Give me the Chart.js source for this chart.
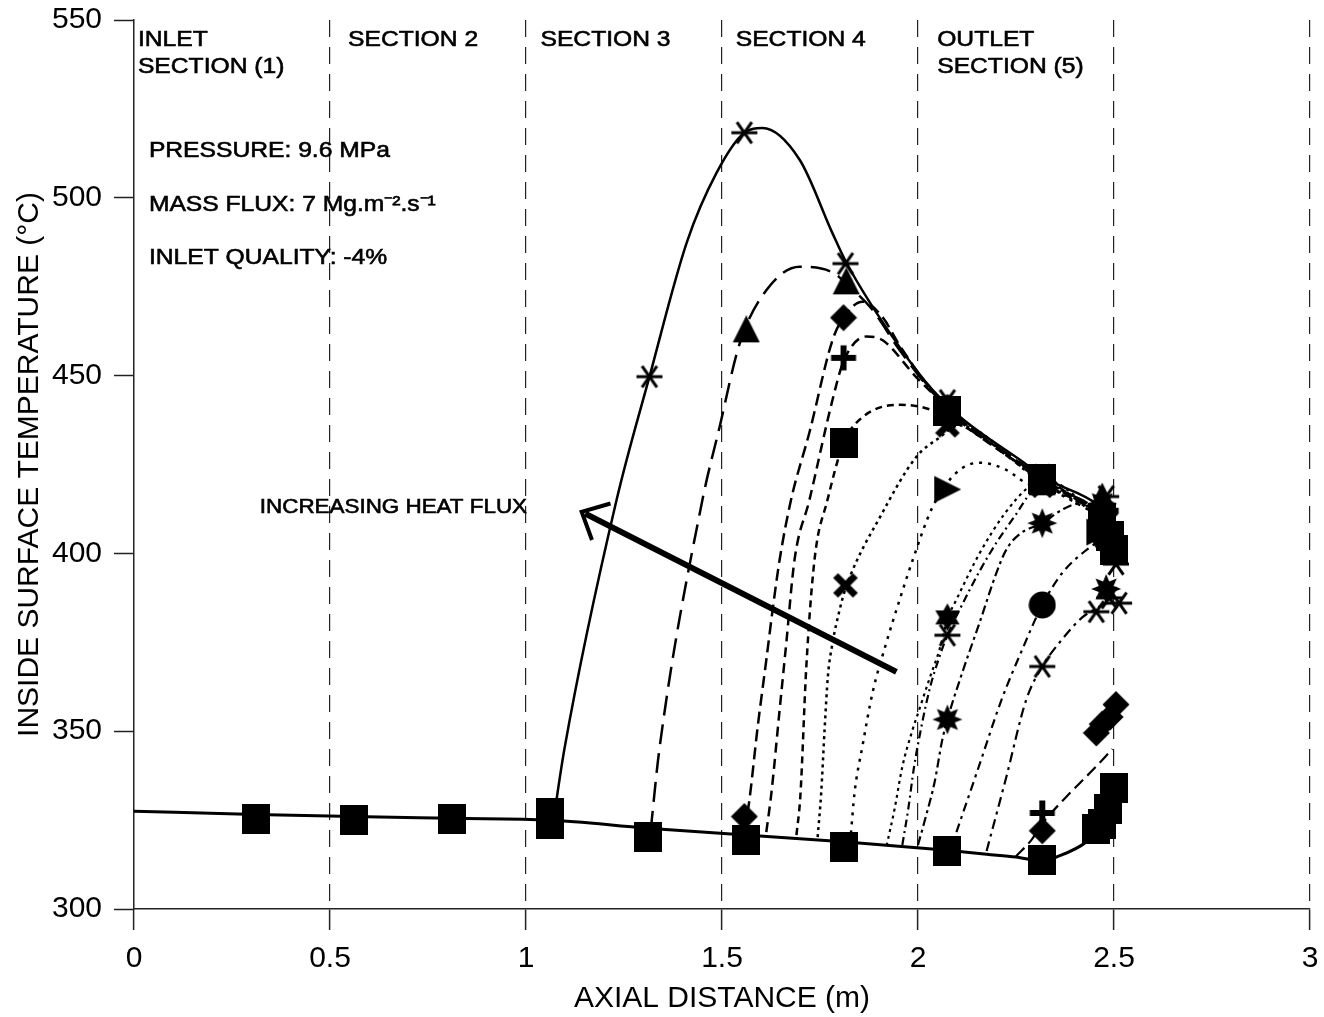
<!DOCTYPE html>
<html>
<head>
<meta charset="utf-8">
<title>Inside surface temperature vs axial distance</title>
<script src="https://cdn.jsdelivr.net/npm/chart.js@4.4.1/dist/chart.umd.min.js"></script>
<style>
  html, body { margin: 0; padding: 0; background: #fff; }
  #wrap { width: 1324px; height: 1017px; }
</style>
</head>
<body>
<div id="wrap"><canvas id="chart" width="1324" height="1017"></canvas></div>
<script>
// Axis ticks
const xTicks = [0, 0.5, 1, 1.5, 2, 2.5, 3];
const yTicks = [300, 350, 400, 450, 500, 550];

// Unheated-wall baseline (axial distance m, temperature °C)
const baseX = [0, 0.31, 0.56, 0.81, 1.06, 1.31, 1.56, 1.81, 2.075, 2.175, 2.25, 2.317, 2.353, 2.43, 2.46, 2.5];
const baseY = [327.5, 326.6, 326, 325.5, 325, 322.7, 320.8, 318.9, 316.5, 315.4, 314.6, 313.5, 314.6, 318.9, 322.5, 333];

// Fitted curves, highest heat flux first
const c1X = [1.07, 1.098, 1.231, 1.315, 1.41, 1.486, 1.557, 1.603, 1.698, 1.782, 1.817, 1.953, 2.037, 2.106, 2.284, 2.317, 2.46, 2.5];
const c1Y = [325, 345, 415, 449.7, 487.4, 507, 518.3, 519.6, 510.7, 490, 481.8, 458, 446, 438.5, 424.4, 421.6, 413.6, 409];

const c2X = [1.318, 1.34, 1.45, 1.494, 1.545, 1.613, 1.698, 1.782, 1.83, 1.88, 1.953, 2.037, 2.106, 2.284, 2.317, 2.46];
const c2Y = [322, 344.7, 415, 435.6, 459, 474, 480.6, 479, 474.5, 469, 457.2, 445.3, 437.8, 423.7, 420.9, 412.8];

const c3X = [1.565, 1.57, 1.591, 1.613, 1.629, 1.647, 1.676, 1.723, 1.782, 1.81, 1.858, 1.909, 1.953, 2.037, 2.106, 2.284, 2.317, 2.46];
const c3Y = [327, 330.7, 351.2, 370, 384, 398.2, 415, 434, 460, 466.3, 470.8, 466.5, 458.5, 445.5, 437.8, 423.5, 420.8, 412.6];

const c4X = [1.613, 1.626, 1.647, 1.664, 1.685, 1.723, 1.782, 1.81, 1.868, 1.909, 1.996, 2.037, 2.106, 2.284, 2.317, 2.46];
const c4Y = [321.6, 332.6, 356, 374.8, 398.2, 415, 443.2, 454, 461, 460, 449.5, 445, 437.3, 423.2, 420.5, 412.3];

const c5X = [1.69, 1.7, 1.715, 1.736, 1.769, 1.81, 1.851, 1.953, 2.03, 2.075, 2.106, 2.284, 2.317, 2.46];
const c5Y = [320.8, 332, 368, 398.2, 415, 431, 437.6, 441.8, 440.5, 438, 436.5, 422.8, 420.1, 411.8];

const c6X = [1.744, 1.753, 1.762, 1.77, 1.782, 1.8, 1.817, 1.909, 1.996, 2.054, 2.106, 2.284, 2.317, 2.46];
const c6Y = [320.2, 332.6, 351, 365.3, 374.8, 384.1, 390.7, 411.4, 427.2, 432.5, 436, 422.5, 419.8, 411.5];

const c7X = [1.829, 1.838, 1.858, 1.884, 1.919, 1.953, 1.986, 2.037, 2.098, 2.157, 2.225, 2.276, 2.317, 2.46];
const c7Y = [321.3, 332.6, 345.6, 360.8, 374.8, 386.9, 398, 413, 422.7, 425.5, 423.5, 419.8, 418.8, 410.8];

const c8X = [1.92, 1.94, 1.96, 1.985, 2.003, 2.03, 2.055, 2.075, 2.098, 2.157, 2.22, 2.28, 2.317, 2.46];
const c8Y = [317.8, 328, 340, 350, 356, 365, 373, 381.5, 387, 400, 411, 418.5, 421, 411];

const c9X = [1.96, 1.975, 1.99, 2.01, 2.03, 2.055, 2.075, 2.11, 2.157, 2.2, 2.25, 2.29, 2.317, 2.46];
const c9Y = [318, 328, 340, 352, 362, 371, 377, 385, 395, 403, 411, 417.5, 420, 410.5];

const c10X = [2.0, 2.02, 2.042, 2.062, 2.075, 2.113, 2.157, 2.2, 2.225, 2.26, 2.317, 2.368, 2.411, 2.46];
const c10Y = [318, 326, 335.5, 347.6, 353.3, 366.5, 380.5, 394.5, 401, 405.5, 408.5, 412.3, 414, 411.5];

const c11X = [2.098, 2.155, 2.213, 2.266, 2.317, 2.368, 2.43, 2.47];
const c11Y = [321.6, 340, 358.8, 373, 385.5, 394.5, 401, 404];

const c12X = [2.175, 2.225, 2.276, 2.317, 2.36, 2.419, 2.455, 2.496];
const c12Y = [316.3, 337, 358.8, 368.2, 374.8, 382, 384.5, 387];

const c13X = [2.25, 2.29, 2.317, 2.378, 2.445, 2.496];
const c13Y = [314.8, 319.5, 324, 331.5, 339, 345];

// Measured points, grouped by symbol
const squareX = [0.31, 0.56, 0.81, 1.06, 1.06, 1.31, 1.56, 1.81, 1.81, 2.075, 2.075, 2.317, 2.317, 2.455, 2.47, 2.485, 2.5, 2.47, 2.49, 2.5];
const squareY = [325.3, 325, 325.4, 327, 324, 320.2, 319.5, 317.5, 431, 316.4, 440, 313.8, 421, 322.5, 324, 328, 334, 410, 405, 401];

const triangleX = [1.562, 1.817, 2.075, 2.317, 2.47];
const triangleY = [463, 476.5, 441, 420, 416];

const diamondX = [1.557, 1.81, 2.075, 2.317, 2.455, 2.47, 2.49, 2.505, 2.47, 2.5];
const diamondY = [326, 466.3, 438, 322, 349.5, 352, 354, 357.5, 407, 403];

const plusX = [1.81, 2.075, 2.317, 2.317, 2.48];
const plusY = [455, 441, 327, 421, 412];

const crossX = [1.815, 2.075, 2.317, 2.48];
const crossY = [391, 436, 419, 409];

const rightTriX = [2.072, 2.46];
const rightTriY = [418, 406];

const asteriskX = [1.315, 1.557, 1.815, 2.075, 2.317, 2.48, 2.075, 2.317, 2.455, 2.488, 2.513, 2.505];
const asteriskY = [449.7, 518.3, 481.5, 443, 422, 416, 377, 368.2, 383.6, 387.5, 386, 397];

const sunX = [2.075, 2.317, 2.48, 2.47];
const sunY = [353.3, 408.5, 390, 414];

const circleX = [2.317, 2.48, 2.5];
const circleY = [385.5, 404, 401];

const star6X = [2.075, 2.47];
const star6Y = [382, 409];

const FONT = '"Liberation Sans", Arial, sans-serif';
const INK = "#000";

// Marker glyphs drawn once onto small canvases
function makeMarker(w, h, draw) {
  const c = document.createElement("canvas");
  c.width = w;
  c.height = h;
  const g = c.getContext("2d");
  g.translate(w / 2, h / 2);
  g.fillStyle = INK;
  g.strokeStyle = INK;
  g.lineCap = "butt";
  draw(g);
  return c;
}

function polygon(g, pts) {
  g.beginPath();
  pts.forEach(([x, y], i) => (i ? g.lineTo(x, y) : g.moveTo(x, y)));
  g.closePath();
  g.fill();
}

function starPoints(n, outer, inner) {
  const pts = [];
  for (let i = 0; i < n * 2; i++) {
    const r = i % 2 ? inner : outer;
    const a = (Math.PI * i) / n - Math.PI / 2;
    pts.push([Math.cos(a) * r, Math.sin(a) * r]);
  }
  return pts;
}

function spokes(g, angles, r, width) {
  g.lineWidth = width;
  for (const deg of angles) {
    const a = (deg * Math.PI) / 180;
    g.beginPath();
    g.moveTo(-r * Math.cos(a), -r * Math.sin(a));
    g.lineTo(r * Math.cos(a), r * Math.sin(a));
    g.stroke();
  }
}

const glyphs = {
  square: makeMarker(28, 30, (g) => g.fillRect(-14, -15, 28, 30)),
  triangle: makeMarker(28, 28, (g) => polygon(g, [[0, -14], [13.5, 13], [-13.5, 13]])),
  diamond: makeMarker(28, 28, (g) => polygon(g, [[0, -13.5], [13.5, 0], [0, 13.5], [-13.5, 0]])),
  rightTri: makeMarker(30, 30, (g) => polygon(g, [[-12, -13.5], [15, 0], [-12, 13.5]])),
  circle: makeMarker(28, 28, (g) => {
    g.beginPath();
    g.arc(0, 0, 13.5, 0, Math.PI * 2);
    g.fill();
  }),
  plus: makeMarker(28, 28, (g) => {
    g.fillRect(-12.5, -3, 25, 6);
    g.fillRect(-3, -12.5, 6, 25);
  }),
  cross: makeMarker(32, 32, (g) => spokes(g, [45, 135], 14, 7)),
  asterisk: makeMarker(30, 30, (g) => spokes(g, [0, 55, 125], 13, 3)),
  sun: makeMarker(32, 32, (g) => polygon(g, starPoints(8, 15, 8))),
  star6: makeMarker(30, 30, (g) => polygon(g, starPoints(6, 14, 8))),
};

function points(xs, ys) {
  return xs.map((x, i) => ({ x, y: ys[i] }));
}

function curve(xs, ys, dash, width) {
  return {
    data: points(xs, ys),
    showLine: true,
    borderColor: INK,
    borderWidth: width,
    borderDash: dash,
    pointRadius: 0,
    pointHoverRadius: 0,
    cubicInterpolationMode: "monotone",
    fill: false,
    order: 1,
  };
}

function marks(xs, ys, glyph) {
  return {
    data: points(xs, ys),
    showLine: false,
    pointStyle: glyph,
    pointRadius: 12,
    pointHoverRadius: 12,
    order: 0,
  };
}

const datasets = [
  marks(squareX, squareY, glyphs.square),
  marks(triangleX, triangleY, glyphs.triangle),
  marks(diamondX, diamondY, glyphs.diamond),
  marks(plusX, plusY, glyphs.plus),
  marks(crossX, crossY, glyphs.cross),
  marks(rightTriX, rightTriY, glyphs.rightTri),
  marks(asteriskX, asteriskY, glyphs.asterisk),
  marks(sunX, sunY, glyphs.sun),
  marks(circleX, circleY, glyphs.circle),
  marks(star6X, star6Y, glyphs.star6),
  curve(baseX, baseY, [], 3),
  curve(c1X, c1Y, [], 2.5),
  curve(c2X, c2Y, [20, 9], 2.5),
  curve(c3X, c3Y, [12, 6], 2.5),
  curve(c4X, c4Y, [10, 6], 2.5),
  curve(c5X, c5Y, [7, 5], 2.5),
  curve(c6X, c6Y, [3, 4], 2.5),
  curve(c7X, c7Y, [3, 6], 2.5),
  curve(c8X, c8Y, [3, 4], 2.2),
  curve(c9X, c9Y, [8, 4, 2, 4], 2.2),
  curve(c10X, c10Y, [9, 4, 3, 4], 2.2),
  curve(c11X, c11Y, [9, 5, 3, 5], 2.2),
  curve(c12X, c12Y, [10, 5, 3, 5], 2.2),
  curve(c13X, c13Y, [12, 6], 2.2),
];

// Section headings and test conditions, placed in data units
const sectionLabels = [
  { x: 0.01, lines: ["INLET", "SECTION (1)"] },
  { x: 0.546, lines: ["SECTION 2"] },
  { x: 1.037, lines: ["SECTION 3"] },
  { x: 1.535, lines: ["SECTION 4"] },
  { x: 2.049, lines: ["OUTLET", "SECTION (5)"] },
];
const conditionLabels = [
  { x: 0.038, y: 513.3, text: "PRESSURE: 9.6 MPa" },
  { x: 0.038, y: 498.1, text: "MASS FLUX: 7 Mg.m\u207B\u00B2.s\u207B\u00B9" },
  { x: 0.038, y: 483.2, text: "INLET QUALITY: -4%" },
];

function stretchedText(ctx, text, x, y, size, align) {
  ctx.save();
  ctx.font = `${size}px ${FONT}`;
  ctx.fillStyle = INK;
  ctx.strokeStyle = INK;
  ctx.lineWidth = 0.6;
  ctx.textBaseline = "middle";
  ctx.textAlign = align || "left";
  ctx.translate(x, y);
  ctx.scale(1.12, 1);
  ctx.fillText(text, 0, 0);
  ctx.strokeText(text, 0, 0);
  ctx.restore();
}

const annotations = {
  id: "annotations",
  afterDraw(chart) {
    const { ctx, chartArea } = chart;
    const sx = chart.scales.x;
    const sy = chart.scales.y;

    for (const label of sectionLabels) {
      label.lines.forEach((line, i) => {
        stretchedText(ctx, line, sx.getPixelForValue(label.x), sy.getPixelForValue(i ? 536.9 : 544.5), 22);
      });
    }
    for (const label of conditionLabels) {
      stretchedText(ctx, label.text, sx.getPixelForValue(label.x), sy.getPixelForValue(label.y), 22);
    }

    // Heat flux arrow
    const tipX = sx.getPixelForValue(1.142);
    const tipY = sy.getPixelForValue(411.7);
    const tailX = sx.getPixelForValue(1.945);
    const tailY = sy.getPixelForValue(366.7);
    const ang = Math.atan2(tailY - tipY, tailX - tipX);
    ctx.save();
    ctx.strokeStyle = INK;
    ctx.lineWidth = 6;
    ctx.beginPath();
    ctx.moveTo(tailX, tailY);
    ctx.lineTo(tipX + 4 * Math.cos(ang), tipY + 4 * Math.sin(ang));
    ctx.stroke();
    ctx.lineWidth = 4;
    ctx.lineJoin = "miter";
    ctx.beginPath();
    ctx.moveTo(tipX + 30 * Math.cos(ang - 0.75), tipY + 30 * Math.sin(ang - 0.75));
    ctx.lineTo(tipX, tipY);
    ctx.lineTo(tipX + 30 * Math.cos(ang + 0.75), tipY + 30 * Math.sin(ang + 0.75));
    ctx.stroke();
    ctx.restore();
    stretchedText(ctx, "INCREASING HEAT FLUX", sx.getPixelForValue(0.321), sy.getPixelForValue(412.8), 20);

    // Axis titles
    ctx.save();
    ctx.fillStyle = INK;
    ctx.font = `30px ${FONT}`;
    ctx.textAlign = "center";
    ctx.textBaseline = "middle";
    ctx.fillText("AXIAL DISTANCE (m)", (chartArea.left + chartArea.right) / 2, 999);
    ctx.translate(30, (chartArea.top + chartArea.bottom) / 2);
    ctx.rotate(-Math.PI / 2);
    ctx.fillText("INSIDE SURFACE TEMPERATURE (\u00B0C)", 0, 0);
    ctx.restore();
  },
};

new Chart(document.getElementById("chart"), {
  type: "scatter",
  data: { datasets },
  plugins: [annotations],
  options: {
    responsive: false,
    animation: false,
    events: [],
    layout: { padding: { top: 20, right: 14, left: 0, bottom: 0 } },
    plugins: { legend: { display: false }, tooltip: { enabled: false } },
    scales: {
      x: {
        type: "linear",
        min: 0,
        max: 3,
        afterFit(scale) {
          scale.height = 108;
          scale.paddingLeft = 0;
          scale.paddingRight = 0;
        },
        afterBuildTicks(scale) {
          scale.ticks = xTicks.map((value) => ({ value }));
        },
        ticks: {
          color: INK,
          padding: 11,
          font: { family: FONT, size: 30 },
          callback: (v) => String(v),
          maxRotation: 0,
        },
        grid: {
          drawOnChartArea: true,
          color: (ctx) => (ctx.tick && ctx.tick.value === 0 ? "rgba(0,0,0,0)" : "#222"),
          lineWidth: 1.2,
          tickLength: 21,
          tickColor: "#222",
          tickWidth: 1.5,
        },
        border: { display: true, color: "#222", width: 1.5, dash: [17, 10] },
      },
      y: {
        type: "linear",
        min: 300,
        max: 550,
        afterFit(scale) {
          scale.width = 134;
          scale.paddingTop = 0;
          scale.paddingBottom = 0;
        },
        afterBuildTicks(scale) {
          scale.ticks = yTicks.map((value) => ({ value }));
        },
        ticks: {
          color: INK,
          padding: 12,
          font: { family: FONT, size: 30 },
          callback: (v) => String(v),
        },
        grid: {
          drawOnChartArea: false,
          tickLength: 20,
          tickColor: "#222",
          tickWidth: 1.5,
        },
        border: { display: true, color: "#222", width: 1.5 },
      },
    },
  },
});
</script>
</body>
</html>
